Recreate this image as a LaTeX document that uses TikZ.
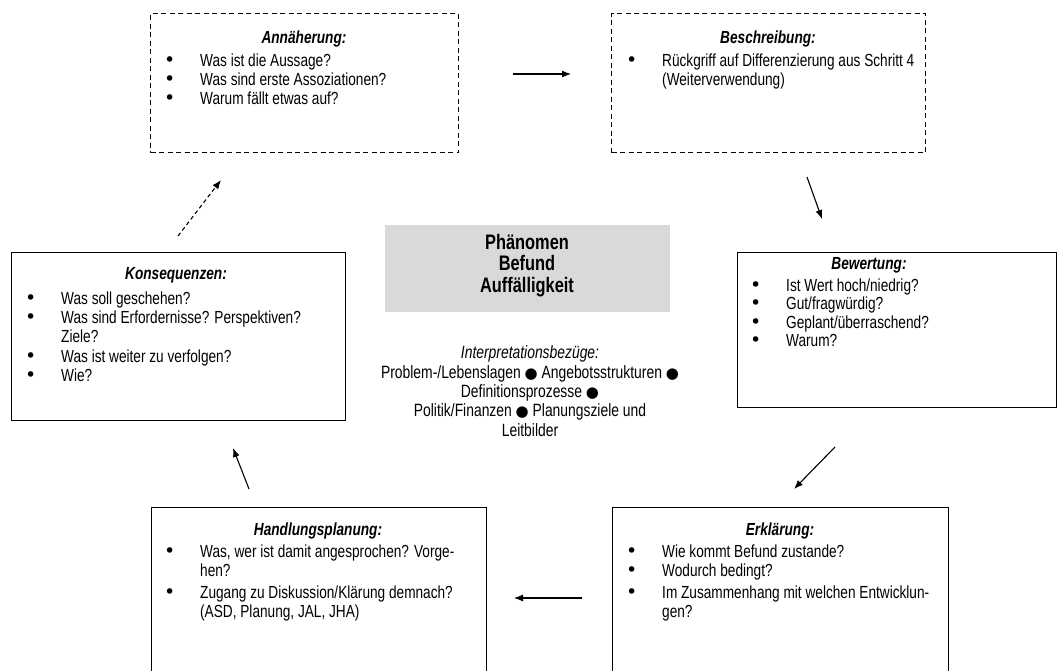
\documentclass[tikz,border=0pt]{standalone}
\usepackage{fontspec}
\setmainfont{Liberation Sans}[FakeStretch=0.78]
\newfontfamily\dotfont{DejaVu Sans}
\usetikzlibrary{arrows.meta}
% bullet hung to the left of the text start
\newcommand\itm{\llap{\makebox[36pt][l]{\dotfont\fontsize{19}{19}\selectfont\char"2022}}}
\newcommand\bigdot{{\dotfont\fontsize{15}{15}\selectfont\char"25CF}}
\begin{document}
\begin{tikzpicture}[x=1pt,y=-1pt,
  solidbox/.style={draw,line width=1pt,inner sep=0,anchor=north west},
  dashbox/.style={draw,line width=1pt,inner sep=0,anchor=north west,dash pattern=on 5pt off 3.5pt},
  graybox/.style={fill=black!15,inner sep=0,anchor=north west},
  ttl/.style={font=\fontsize{17.5}{19}\selectfont\bfseries\itshape,anchor=base,inner sep=0},
  txt/.style={font=\fontsize{17.5}{19}\selectfont,anchor=base west,inner sep=0},
  ctr/.style={font=\fontsize{17.8}{19}\selectfont,anchor=base,inner sep=0},
  core/.style={font=\fontsize{21}{21}\selectfont\bfseries,anchor=base,inner sep=0},
  flow/.style={-{Latex[length=9pt,width=7pt]},line width=1.1pt},
]
\useasboundingbox (0,0) rectangle (1058,670);
\clip (0,0) rectangle (1058,670);

% boxes
\node[dashbox,minimum width=308pt,minimum height=139pt] (ann) at (150,13) {};
\node[dashbox,minimum width=314pt,minimum height=139pt] (bes) at (611,13) {};
\node[solidbox,minimum width=334pt,minimum height=168pt] (kon) at (11,252) {};
\node[solidbox,minimum width=319pt,minimum height=155pt] (bew) at (737,252) {};
\node[solidbox,minimum width=335pt,minimum height=200pt] (han) at (151,507) {};
\node[solidbox,minimum width=336pt,minimum height=200pt] (erk) at (612,507) {};
\node[graybox,minimum width=285pt,minimum height=87pt] (phae) at (385,225) {};

% Annäherung
\node[ttl] (annT) at (304,43) {Annäherung:};
\node[txt] (ann1) at (200,66) {\itm Was ist die Aussage?};
\node[txt] (ann2) at (200,85) {\itm Was sind erste Assoziationen?};
\node[txt] (ann3) at (200,104) {\itm Warum fällt etwas auf?};

% Beschreibung
\node[ttl] (besT) at (768,43) {Beschreibung:};
\node[txt] (bes1) at (662,66) {\itm Rückgriff auf Differenzierung aus Schritt 4};
\node[txt] (bes2) at (662,85) {(Weiterverwendung)};

% Konsequenzen
\node[ttl] (konT) at (176,279) {Konsequenzen:};
\node[txt] (kon1) at (61,304) {\itm Was soll geschehen?};
\node[txt] (kon2) at (61,323) {\itm Was sind Erfordernisse? Perspektiven?};
\node[txt] (kon3) at (61,342) {Ziele?};
\node[txt] (kon4) at (61,362) {\itm Was ist weiter zu verfolgen?};
\node[txt] (kon5) at (61,381) {\itm Wie?};

% Bewertung
\node[ttl] (bewT) at (869,269) {Bewertung:};
\node[txt] (bew1) at (786,291) {\itm Ist Wert hoch/niedrig?};
\node[txt] (bew2) at (786,309) {\itm Gut/fragwürdig?};
\node[txt] (bew3) at (786,328) {\itm Geplant/überraschend?};
\node[txt] (bew4) at (786,346) {\itm Warum?};

% Handlungsplanung
\node[ttl] (hanT) at (318,535) {Handlungsplanung:};
\node[txt] (han1) at (200,557) {\itm Was, wer ist damit angesprochen? Vorge-};
\node[txt] (han2) at (200,576) {hen?};
\node[txt] (han3) at (200,598) {\itm Zugang zu Diskussion/Klärung demnach?};
\node[txt] (han4) at (200,617) {(ASD, Planung, JAL, JHA)};

% Erklärung
\node[ttl] (erkT) at (780,535) {Erklärung:};
\node[txt] (erk1) at (662,557) {\itm Wie kommt Befund zustande?};
\node[txt] (erk2) at (662,576) {\itm Wodurch bedingt?};
\node[txt] (erk3) at (662,598) {\itm Im Zusammenhang mit welchen Entwicklun-};
\node[txt] (erk4) at (662,617) {gen?};

% centre
\node[core] (c1) at (527,249) {Phänomen};
\node[core] (c2) at (527,270) {Befund};
\node[core] (c3) at (527,292) {Auffälligkeit};
\node[ctr,font=\fontsize{17.8}{19}\selectfont\itshape] (i0) at (530,358) {Interpretationsbezüge:};
\node[ctr] (i1) at (530,378) {Problem-/Lebenslagen \bigdot{} Angebotsstrukturen \bigdot};
\node[ctr] (i2) at (530,397) {Definitionsprozesse \bigdot};
\node[ctr] (i3) at (530,416) {Politik/Finanzen \bigdot{} Planungsziele und};
\node[ctr] (i4) at (530,436) {Leitbilder};

% arrow end points
\coordinate (a1s) at (513,74);  \coordinate (a1e) at (571,74);
\coordinate (a2s) at (807,177); \coordinate (a2e) at (822,219);
\coordinate (a3s) at (835,447); \coordinate (a3e) at (794,489);
\coordinate (a4s) at (582,598); \coordinate (a4e) at (514,598);
\coordinate (a5s) at (249,489); \coordinate (a5e) at (233,448);
\coordinate (a6s) at (178,236); \coordinate (a6e) at (221,180);

\draw[flow] (a1s) -- (a1e);
\draw[flow] (a2s) -- (a2e);
\draw[flow] (a3s) -- (a3e);
\draw[flow] (a4s) -- (a4e);
\draw[flow] (a5s) -- (a5e);
\draw[flow,dash pattern=on 4pt off 3pt] (a6s) -- (a6e);
\end{tikzpicture}
\end{document}
